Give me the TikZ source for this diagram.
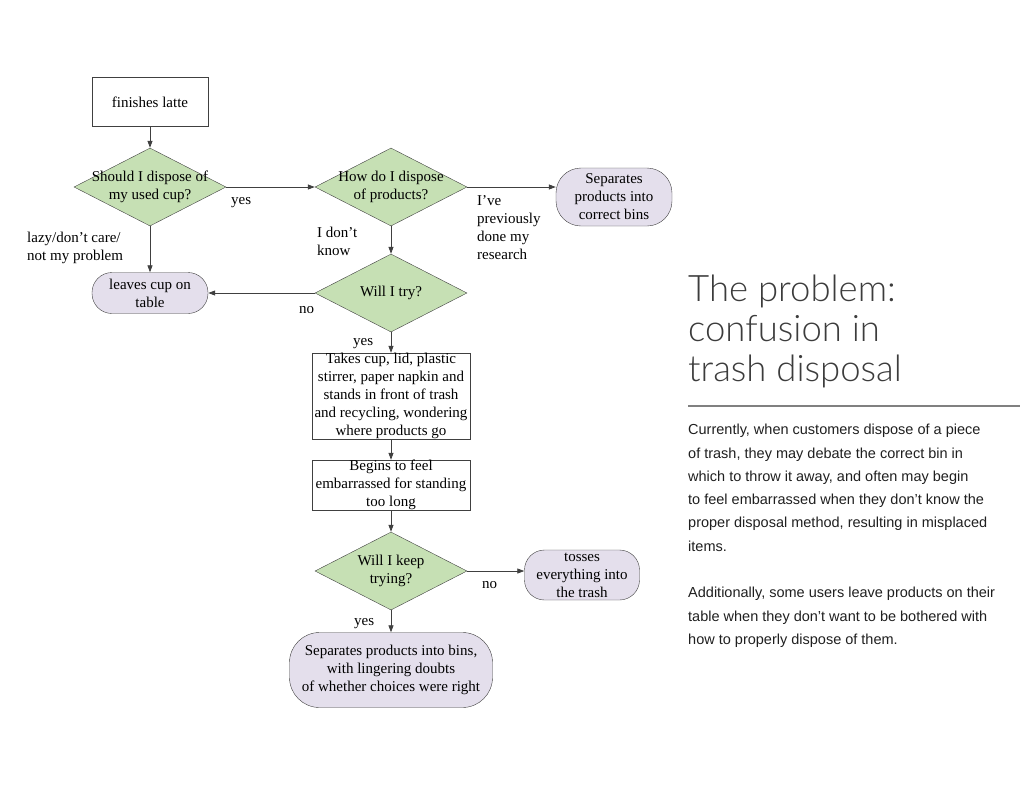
\documentclass[tikz,border=0pt]{standalone}
\usepackage{fontspec}
\setmainfont{Liberation Serif}
\newfontfamily\bodyfont{Liberation Sans}
\IfFontExistsTF{Lato Light}{\newfontfamily\titlefont{Lato Light}}{\newfontfamily\titlefont{Liberation Sans}}
\usetikzlibrary{shapes.geometric, arrows.meta, positioning}

\definecolor{decisiongreen}{RGB}{198,224,180}
\definecolor{endlilac}{RGB}{228,223,236}
\definecolor{edgegray}{RGB}{64,64,64}
\definecolor{titlegray}{RGB}{60,60,60}

\begin{document}
\begin{tikzpicture}[x=1pt, y=-1pt, font=\fontsize{15}{18}\selectfont]
    % Node styles
    \tikzstyle{process} = [rectangle, draw=edgegray, fill=white, inner sep=0pt, align=center]
    \tikzstyle{decision} = [diamond, draw=edgegray, fill=decisiongreen, minimum width=152pt, minimum height=78pt, inner sep=0pt]
    \tikzstyle{outcome} = [rectangle, draw=edgegray, fill=endlilac, rounded corners=20pt, inner sep=0pt, align=center]
    \tikzstyle{question} = [align=center, inner sep=0pt]
    \tikzstyle{answer} = [align=left, inner sep=0pt]
    \tikzstyle{flowarrow} = [-{Triangle[length=7pt, width=5pt]}, draw=edgegray, line width=0.8pt]

    \useasboundingbox (0,0) rectangle (1020,788);

    % Nodes
    \node (latte) [process, minimum width=116pt, minimum height=49pt] at (150,102) {finishes latte};
    \node (dispose) [decision, label={[question]center:{Should I dispose of\\my used cup?}}] at (150,187) {};
    \node (howdo) [decision, label={[question]center:{How do I dispose\\of products?}}] at (391,187) {};
    \node (correct) [outcome, minimum width=116pt, minimum height=58pt, rounded corners=25pt] at (614,197) {Separates\\products into\\correct bins};
    \node (try) [decision, label={[question]center:{Will I try?}}] at (391,293) {};
    \node (leaves) [outcome, minimum width=116pt, minimum height=41pt] at (150,293) {leaves cup on\\table};
    \node (takes) [process, minimum width=158pt, minimum height=86pt] at (391,396) {Takes cup, lid, plastic\\stirrer, paper napkin and\\stands in front of trash\\and recycling, wondering\\where products go};
    \node (embarrassed) [process, minimum width=158pt, minimum height=50pt] at (391,485) {Begins to feel\\embarrassed for standing\\too long};
    \node (keep) [decision, label={[question]center:{Will I keep\\trying?}}] at (391,571) {};
    \node (tosses) [outcome, minimum width=115pt, minimum height=50pt] at (582,575) {tosses\\everything into\\the trash};
    \node (doubts) [outcome, minimum width=203pt, minimum height=75pt, rounded corners=30pt] at (391,670) {Separates products into bins,\\with lingering doubts\\of whether choices were right};

    % Answers next to the arrows
    \node (yesfirst) [answer, anchor=base west] at (231,204) {yes};
    \node (lazy) [answer, anchor=north west] at (27,231.5) {lazy/don’t care/\\not my problem};
    \node (dontknow) [answer, anchor=north west] at (317,226.5) {I don’t\\know};
    \node (research) [answer, anchor=north west] at (477,195) {I’ve\\previously\\done my\\research};
    \node (notry) [answer, anchor=base west] at (299,313) {no};
    \node (yestry) [answer, anchor=base west] at (353,345) {yes};
    \node (nokeep) [answer, anchor=base west] at (482,588) {no};
    \node (yeskeep) [answer, anchor=base west] at (354,625) {yes};

    % Arrows
    \draw[flowarrow] (latte) -- (dispose);
    \draw[flowarrow] (dispose) -- (howdo);
    \draw[flowarrow] (howdo.east) -- (howdo.east -| correct.west);
    \draw[flowarrow] (dispose) -- (leaves);
    \draw[flowarrow] (howdo) -- (try);
    \draw[flowarrow] (try) -- (leaves);
    \draw[flowarrow] (try) -- (takes);
    \draw[flowarrow] (takes) -- (embarrassed);
    \draw[flowarrow] (embarrassed) -- (keep);
    \draw[flowarrow] (keep.east) -- (keep.east -| tosses.west);
    \draw[flowarrow] (keep) -- (doubts);

    % The problem, on the right
    \node (title) [anchor=north west, align=left, inner sep=0pt, text=titlegray, font=\titlefont\fontsize{36.5}{40}\selectfont] at (688,274.5) {The problem:\\confusion in\\trash disposal};
    \draw[line width=1.2pt, gray] (688,406) -- (1020,406);
    \node (summary) [anchor=north west, align=left, inner sep=0pt, text=black!88, font=\bodyfont\fontsize{14.5}{23.3}\selectfont] at (688,424) {Currently, when customers dispose of a piece\\of trash, they may debate the correct bin in\\which to throw it away, and often may begin\\to feel embarrassed when they don’t know the\\proper disposal method, resulting in misplaced\\items.\\[23.3pt]Additionally, some users leave products on their\\table when they don’t want to be bothered with\\how to properly dispose of them.};
\end{tikzpicture}
\end{document}
